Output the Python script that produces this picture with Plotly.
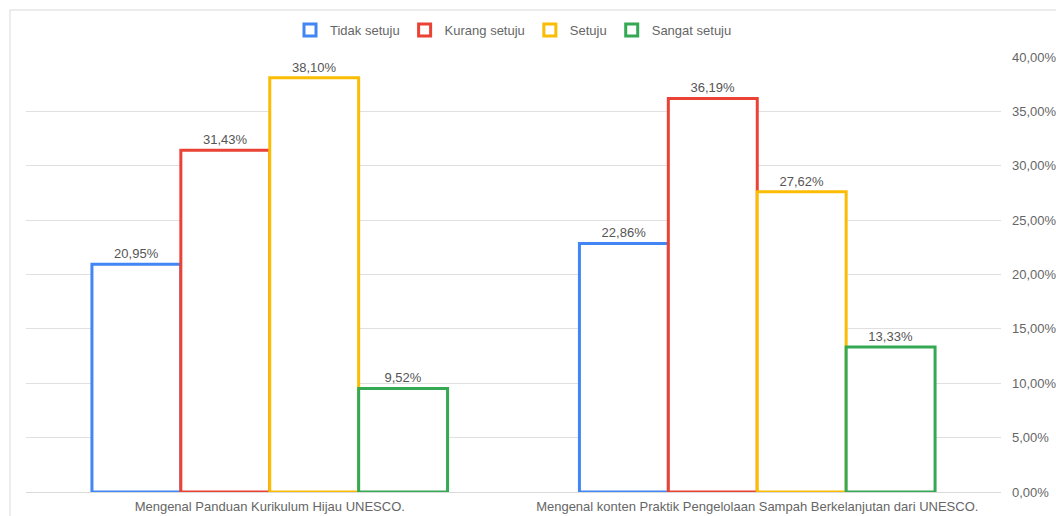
import plotly.graph_objects as go

categories = ["Mengenal Panduan Kurikulum Hijau UNESCO.",
              "Mengenal konten Praktik Pengelolaan Sampah Berkelanjutan dari UNESCO."]
series_names = ["Tidak setuju", "Kurang setuju", "Setuju", "Sangat setuju"]
tidak_setuju = [20.95, 22.86]
kurang_setuju = [31.43, 36.19]
setuju = [38.10, 27.62]
sangat_setuju = [9.52, 13.33]
colors = ["#4285F4", "#EA4335", "#FBBC04", "#34A853"]

values = [tidak_setuju, kurang_setuju, setuju, sangat_setuju]

FONT = "Liberation Sans, Arial"

fig = go.Figure()
for name, vals, col in zip(series_names, values, colors):
    fig.add_trace(go.Bar(
        x=categories, y=vals, name=name,
        marker=dict(color="white", line=dict(color=col, width=3)),
        texttemplate="%{y:.2f}%", textposition="outside",
        textfont=dict(color="#555555", size=13, family=FONT),
        cliponaxis=False,
    ))

fig.update_layout(
    width=1056, height=516,
    margin=dict(l=26, r=55, t=57, b=24, autoexpand=False),
    paper_bgcolor="white", plot_bgcolor="white",
    separators=",.",
    barmode="group", bargap=0.2705, bargroupgap=0,
    font=dict(family=FONT, size=13, color="#666666"),
    showlegend=True,
    legend=dict(orientation="h", x=0.5, xanchor="center", y=1 - 15 / 516, yref="container",
                yanchor="top", font=dict(size=13, color="#666666"),
                itemwidth=30, tracegroupgap=0, traceorder="normal"),
    xaxis=dict(showgrid=False, showline=False, zeroline=False, automargin=False,
               tickfont=dict(size=13, color="#666666"), ticks="", ticklabelstandoff=5),
    yaxis=dict(side="right", range=[0, 40], dtick=5, tickformat=".2f", ticksuffix="%",
               gridcolor="#e0e0e0", gridwidth=1, zeroline=True, zerolinecolor="#d9d9d9",
               zerolinewidth=1, showline=False, ticks="", ticklabelstandoff=10,
               automargin=False,
               tickfont=dict(size=13, color="#666666")),
    shapes=[dict(type="rect", xref="paper", yref="paper",
                 x0=-16/975, x1=1.2, y0=-0.3, y1=1 + 47/435,
                 line=dict(color="#e6e6e6", width=1.5), fillcolor="rgba(0,0,0,0)",
                 layer="below")],
)

fig.write_html("out.html")
